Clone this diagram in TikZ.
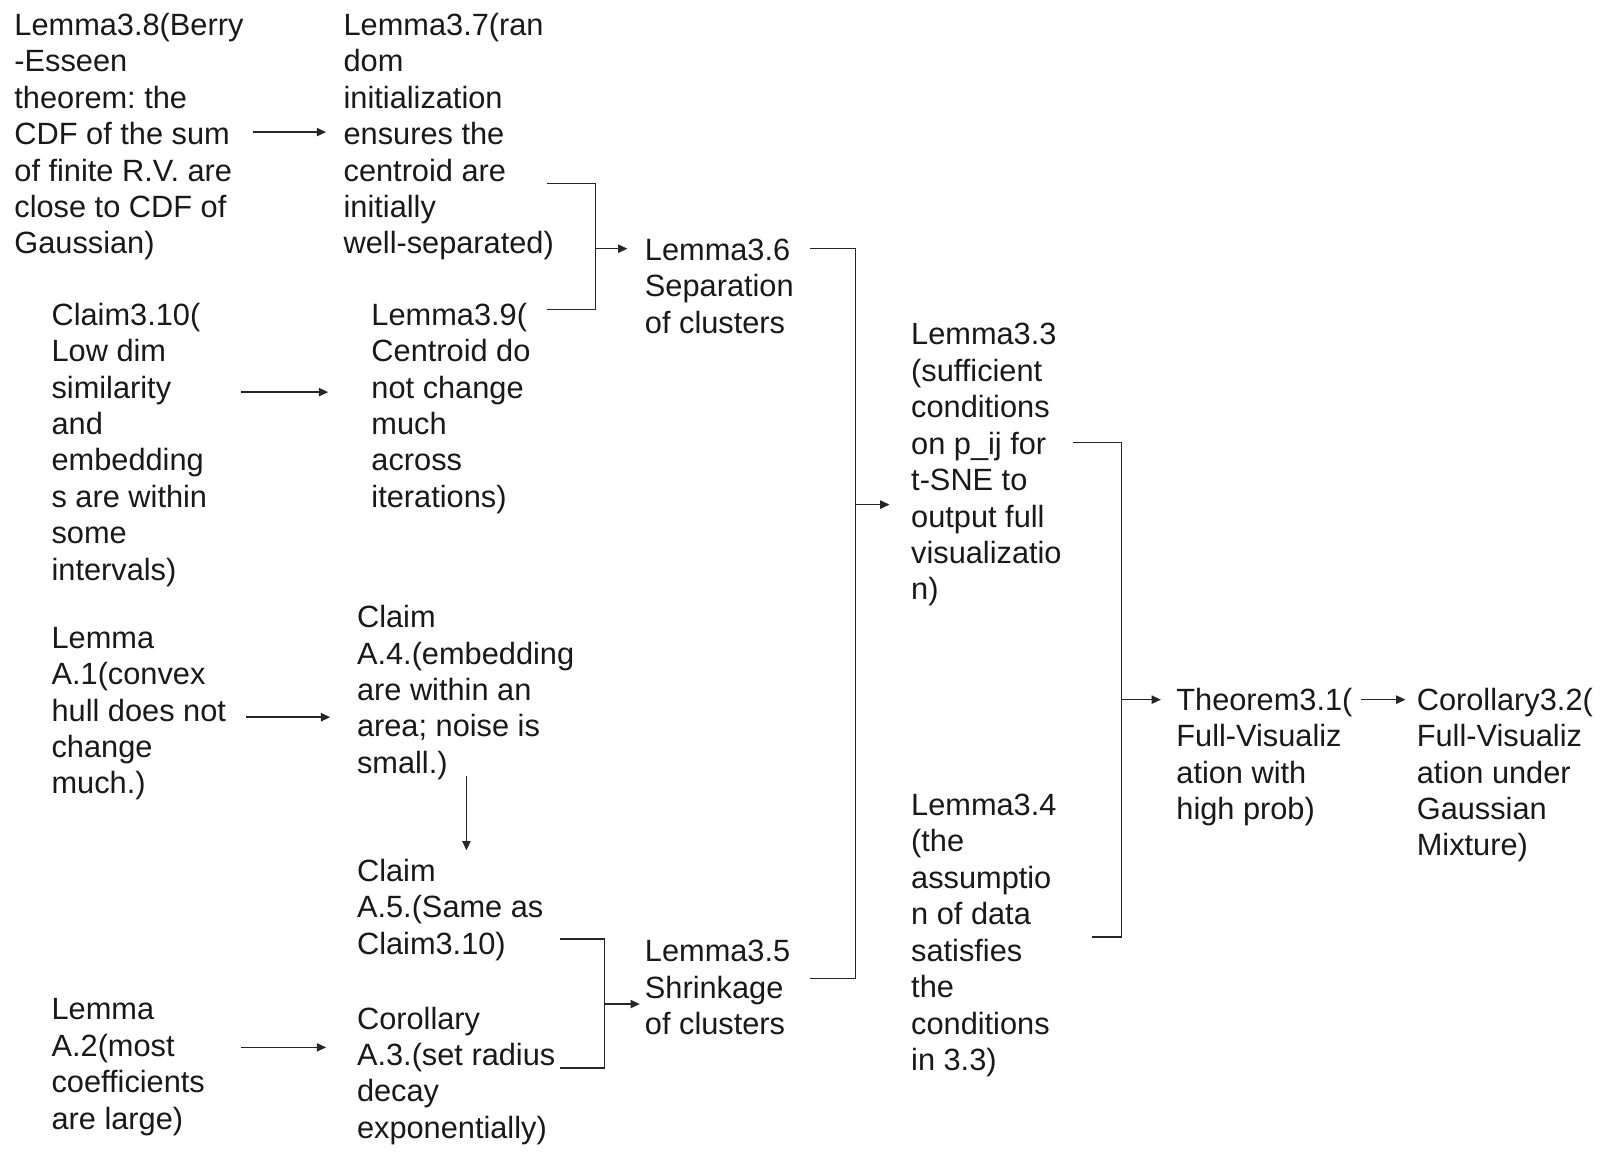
\documentclass[tikz,border=0pt]{standalone}
\usepackage{fontspec}
\setmainfont{Liberation Sans}
\usetikzlibrary{arrows.meta,calc}
\begin{document}
\frenchspacing
\begin{tikzpicture}[x=1pt,y=-1pt,
  txt/.style={anchor=north west,inner sep=0pt,outer sep=0pt,align=left,text=black!90,
    font=\fontsize{29.8}{35.3}\selectfont\frenchspacing},
  ln/.style={draw=black!85,line width=1.4pt},
  arr/.style={ln,-{Triangle[length=9pt,width=8pt]}}]
\fill[white] (0,0) rectangle (1566,1118.3);
\useasboundingbox (0,0) rectangle (1566,1118.3);

% nodes
\node[txt] (l38) at (14,9.5) {\strut Lemma3.8(Berry\\-Esseen\\theorem: the\\CDF of the sum\\of finite R.V. are\\close to CDF of\\Gaussian)};
\node[txt] (l37) at (333,9.5) {\strut Lemma3.7(ran\\dom\\initialization\\ensures the\\centroid are\\initially\\well-separated)};
\node[txt] (l310) at (50,290.5) {\strut Claim3.10(\\Low dim\\similarity\\and\\embedding\\s are within\\some\\intervals)};
\node[txt] (l39) at (360,290.5) {\strut Lemma3.9(\\Centroid do\\not change\\much\\across\\iterations)};
\node[txt] (lA1) at (50,603.5) {\strut Lemma\\A.1(convex\\hull does not\\change\\much.)};
\node[txt] (cA4) at (346,583.5) {\strut Claim\\A.4.(embedding\\are within an\\area; noise is\\small.)};
\node[txt] (cA5) at (346,829.5) {\strut Claim\\A.5.(Same as\\Claim3.10)};
\node[txt] (lA2) at (50,963.5) {\strut Lemma\\A.2(most\\coefficients\\are large)};
\node[txt] (cA3) at (346,972.5) {\strut Corollary\\A.3.(set radius\\decay\\exponentially)};
\node[txt] (l36) at (625,227.5) {\strut Lemma3.6\\Separation\\of clusters};
\node[txt] (l35) at (625,907.5) {\strut Lemma3.5\\Shrinkage\\of clusters};
\node[txt] (l33) at (883,309.5) {\strut Lemma3.3\\(sufficient\\conditions\\on p\_ij for\\t-SNE to\\output full\\visualizatio\\n)};
\node[txt] (l34) at (883,765.5) {\strut Lemma3.4\\(the\\assumptio\\n of data\\satisfies\\the\\conditions\\in 3.3)};
\node[txt] (t31) at (1140,663.5) {\strut Theorem3.1(\\Full-Visualiz\\ation with\\high prob)};
\node[txt] (c32) at (1373,663.5) {\strut Corollary3.2(\\Full-Visualiz\\ation under\\Gaussian\\Mixture)};

% helper levels
\coordinate (ya) at (0,128);
\coordinate (yb) at (0,380);
\coordinate (yc) at (0,695);
\coordinate (yd) at (0,1015);
\coordinate (ye) at (0,678);
\coordinate (xv) at (452,0);
\coordinate (b1t) at (577,178);
\coordinate (b1b) at (577,300);
\coordinate (b1m) at (577,241);
\coordinate (b2t) at (829,241);
\coordinate (b2b) at (829,948);
\coordinate (b2m) at (829,489);
\coordinate (b3t) at (1087,429);
\coordinate (b3b) at (1087,908);
\coordinate (b3m) at (1087,678);
\coordinate (b4t) at (586,910);
\coordinate (b4b) at (586,1035);
\coordinate (b4m) at (586,973);

% straight arrows
\draw[arr,shorten <=9pt,shorten >=17pt] (l38.east |- ya) -- (l37.west |- ya);
\draw[arr,shorten <=33pt,shorten >=42pt] (l310.east |- yb) -- (l39.west |- yb);
\draw[arr,shorten <=19pt,shorten >=26pt] (lA1.east |- yc) -- (cA4.west |- yc);
\draw[arr,shorten <=35pt,shorten >=30pt] (lA2.east |- yd) -- (cA3.west |- yd);
\draw[arr,shorten <=-4pt,shorten >=5.5pt] (cA4.south -| xv) -- (cA5.north -| xv);
\draw[arr,shorten <=8pt,shorten >=11pt] (t31.east |- ye) -- (c32.west |- ye);

% brackets
\draw[ln,shorten <=-7pt,shorten >=16pt] (l37.east |- b1t) -- (b1t) -- (b1b) -- (l39.east |- b1b);
\draw[arr,shorten >=17pt] (b1m) -- (l36.west |- b1m);

\draw[ln,shorten <=16pt,shorten >=19pt] (l36.east |- b2t) -- (b2t) -- (b2b) -- (l35.east |- b2b);
\draw[arr,shorten >=21pt] (b2m) -- (l33.west |- b2m);

\draw[ln,shorten <=11pt,shorten >=34pt] (l33.east |- b3t) -- (b3t) -- (b3b) -- (l34.east |- b3b);
\draw[arr,shorten >=15pt] (b3m) -- (t31.west |- b3m);

\draw[ln,shorten <=16.5pt,shorten >=5pt] (cA5.east |- b4t) -- (b4t) -- (b4b) -- (cA3.east |- b4b);
\draw[arr,shorten >=5pt] (b4m) -- (l35.west |- b4m);
\end{tikzpicture}
\end{document}
